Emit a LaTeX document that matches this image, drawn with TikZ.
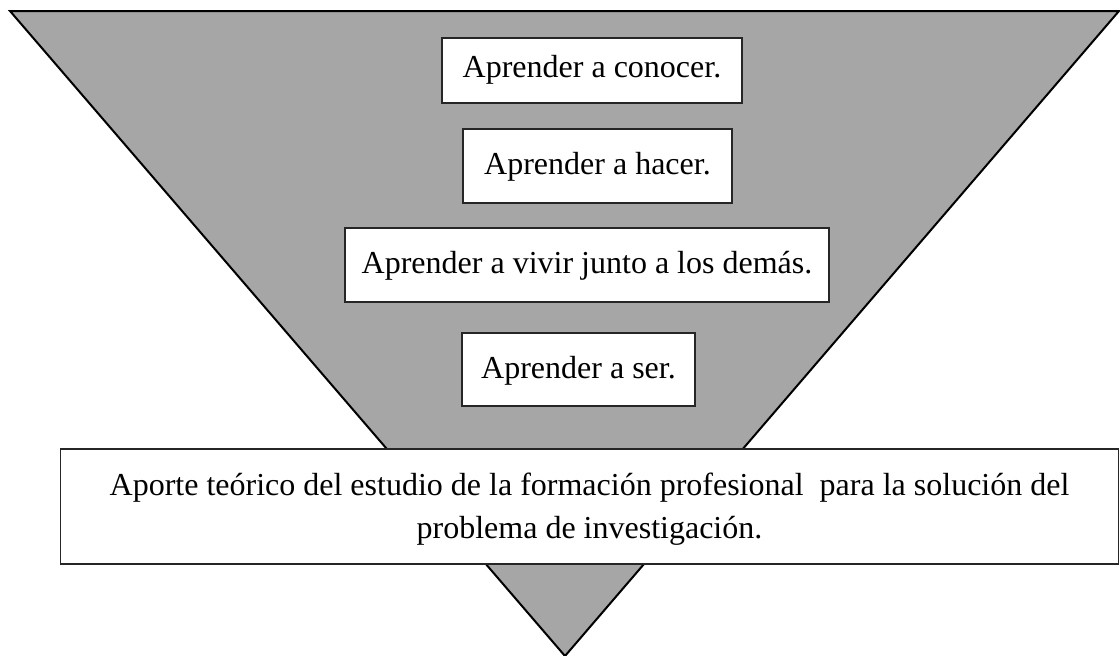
\documentclass[tikz,border=0pt]{standalone}
\usepackage{fontspec}
\setmainfont{Liberation Serif}
\begin{document}
\begin{tikzpicture}[x=1pt,y=-1pt,
  boxed/.style={draw=black!85, line width=1.3pt, fill=white, inner sep=0pt},
  lbl/.style={font=\fontsize{32}{43}\selectfont, inner sep=0pt, align=center}]
\useasboundingbox (0,0) rectangle (1120,656);
\fill[fill={rgb,255:red,166;green,166;blue,166}, draw=black, line width=2pt, line join=miter]
  (10,11) -- (1119,11) -- (565,656) -- cycle;
\node[boxed, minimum width=300pt, minimum height=65pt] (b1) at (592,70.5) {};
\node[lbl] (t1) at ([yshift=1pt]b1.center) {Aprender a conocer.};
\node[boxed, minimum width=269pt, minimum height=74pt] (b2) at (597.5,166) {};
\node[lbl] (t2) at ([yshift=-1pt]b2.center) {Aprender a hacer.};
\node[boxed, minimum width=484pt, minimum height=74pt] (b3) at (587,265) {};
\node[lbl] (t3) at ([yshift=-1pt]b3.center) {Aprender a vivir junto a los demás.};
\node[boxed, minimum width=233pt, minimum height=73pt] (b4) at (578.5,369.5) {};
\node[lbl] (t4) at ([yshift=-1pt]b4.center) {Aprender a ser.};
\node[boxed, minimum width=1058pt, minimum height=115pt] (b5) at (589.5,506.5) {};
\node[lbl] (t5) at ([yshift=-3pt]b5.center) {Aporte teórico del estudio de la formación profesional\ \ para la solución del\\problema de investigación.};
\end{tikzpicture}
\end{document}
